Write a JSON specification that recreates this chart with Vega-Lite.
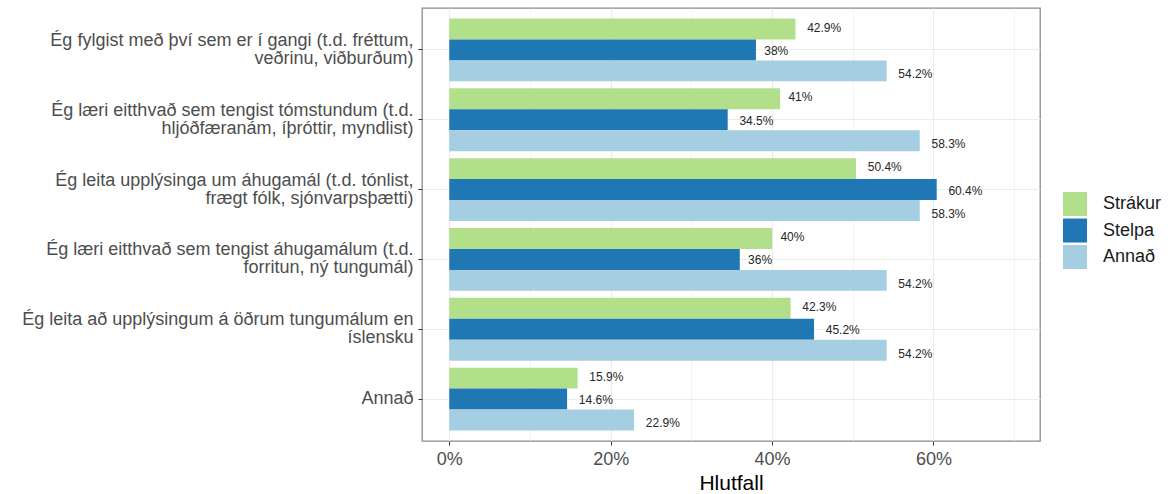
{
  "$schema": "https://vega.github.io/schema/vega-lite/v6.json",
  "width": 618,
  "height": 433,
  "autosize": {"type": "none"},
  "padding": {"left": 422, "top": 8, "right": 130, "bottom": 53},
  "config": {
    "font": "Liberation Sans",
    "view": {"stroke": "#8a8a8a", "strokeWidth": 1.3},
    "axis": {"domain": false}
  },
  "data": {
    "values": [
      {"item": "Ég fylgist með því sem er í gangi (t.d. fréttum,\nveðrinu, viðburðum)", "g": "Strákur", "v": 0.429},
      {"item": "Ég fylgist með því sem er í gangi (t.d. fréttum,\nveðrinu, viðburðum)", "g": "Stelpa", "v": 0.38},
      {"item": "Ég fylgist með því sem er í gangi (t.d. fréttum,\nveðrinu, viðburðum)", "g": "Annað", "v": 0.542},
      {"item": "Ég læri eitthvað sem tengist tómstundum (t.d.\nhljóðfæranám, íþróttir, myndlist)", "g": "Strákur", "v": 0.41},
      {"item": "Ég læri eitthvað sem tengist tómstundum (t.d.\nhljóðfæranám, íþróttir, myndlist)", "g": "Stelpa", "v": 0.345},
      {"item": "Ég læri eitthvað sem tengist tómstundum (t.d.\nhljóðfæranám, íþróttir, myndlist)", "g": "Annað", "v": 0.583},
      {"item": "Ég leita upplýsinga um áhugamál (t.d. tónlist,\nfrægt fólk, sjónvarpsþætti)", "g": "Strákur", "v": 0.504},
      {"item": "Ég leita upplýsinga um áhugamál (t.d. tónlist,\nfrægt fólk, sjónvarpsþætti)", "g": "Stelpa", "v": 0.604},
      {"item": "Ég leita upplýsinga um áhugamál (t.d. tónlist,\nfrægt fólk, sjónvarpsþætti)", "g": "Annað", "v": 0.583},
      {"item": "Ég læri eitthvað sem tengist áhugamálum (t.d.\nforritun, ný tungumál)", "g": "Strákur", "v": 0.40},
      {"item": "Ég læri eitthvað sem tengist áhugamálum (t.d.\nforritun, ný tungumál)", "g": "Stelpa", "v": 0.36},
      {"item": "Ég læri eitthvað sem tengist áhugamálum (t.d.\nforritun, ný tungumál)", "g": "Annað", "v": 0.542},
      {"item": "Ég leita að upplýsingum á öðrum tungumálum en\níslensku", "g": "Strákur", "v": 0.423},
      {"item": "Ég leita að upplýsingum á öðrum tungumálum en\níslensku", "g": "Stelpa", "v": 0.452},
      {"item": "Ég leita að upplýsingum á öðrum tungumálum en\níslensku", "g": "Annað", "v": 0.542},
      {"item": "Annað", "g": "Strákur", "v": 0.159},
      {"item": "Annað", "g": "Stelpa", "v": 0.146},
      {"item": "Annað", "g": "Annað", "v": 0.229}
    ]
  },
  "encoding": {
    "y": {
      "field": "item",
      "type": "nominal",
      "sort": null,
      "scale": {"paddingInner": 0.1, "paddingOuter": 0.15},
      "axis": {
        "title": null,
        "labelExpr": "split(datum.label, '\\n')",
        "labelFontSize": 18,
        "labelLineHeight": 18,
        "labelColor": "#4d4d4d",
        "labelLimit": 600,
        "labelPadding": 5,
        "labelOffset": {"condition": {"test": "indexof(datum.value, '\\n') >= 0", "value": -9}, "value": 0},
        "tickSize": 4,
        "tickColor": "#333333",
        "bandPosition": 0.5,
        "grid": true,
        "gridColor": "#ebebeb",
        "gridWidth": 1.2
      }
    },
    "x": {
      "field": "v",
      "type": "quantitative",
      "scale": {"domain": [-0.0338, 0.732], "nice": false, "zero": false},
      "axis": {
        "values": [0, 0.1, 0.2, 0.3, 0.4, 0.5, 0.6, 0.7],
        "format": ".0%",
        "labelExpr": "round(datum.value*10) % 2 == 0 ? datum.label : ''",
        "labelFlush": false,
        "labelOverlap": false,
        "labelBound": false,
        "labelFontSize": 18,
        "labelColor": "#4d4d4d",
        "labelPadding": 5,
        "tickSize": 4,
        "tickColor": "#333333",
        "tickOpacity": {"condition": {"test": "round(datum.value*10) % 2 == 0", "value": 1}, "value": 0},
        "grid": true,
        "gridColor": "#ebebeb",
        "gridWidth": {"condition": {"test": "round(datum.value*10) % 2 == 0", "value": 1.2}, "value": 0.6},
        "title": "Hlutfall",
        "titleFontSize": 21,
        "titleFontWeight": "normal",
        "titleColor": "#000000",
        "titlePadding": 4
      }
    }
  },
  "layer": [
    {
      "mark": {"type": "bar"},
      "encoding": {
        "yOffset": {"field": "g", "type": "nominal", "scale": {"domain": ["Strákur", "Stelpa", "Annað"]}},
        "color": {
          "field": "g",
          "type": "nominal",
          "scale": {"domain": ["Strákur", "Stelpa", "Annað"], "range": ["#b2df8a", "#1f78b4", "#a6cee3"]},
          "legend": {
            "title": null,
            "orient": "none",
            "legendX": 641,
            "legendY": 184,
            "symbolType": "square",
            "symbolSize": 576,
            "symbolStrokeWidth": 0,
            "symbolOpacity": 1,
            "labelFontSize": 18,
            "labelColor": "#1a1a1a",
            "labelOffset": 16,
            "rowPadding": 2.5,
            "padding": 0
          }
        }
      }
    },
    {
      "transform": [{"filter": "round(datum.v*1000) % 10 != 0"}],
      "mark": {"type": "text", "align": "left", "baseline": "middle", "dx": 11.7, "dy": 1, "fontSize": 12, "color": "#262626"},
      "encoding": {
        "yOffset": {"field": "g", "type": "nominal", "scale": {"domain": ["Strákur", "Stelpa", "Annað"], "padding": 0.35}},
        "text": {"field": "v", "type": "quantitative", "format": ".1~%"}
      }
    },
    {
      "transform": [{"filter": "round(datum.v*1000) % 10 == 0"}],
      "mark": {"type": "text", "align": "left", "baseline": "middle", "dx": 8.3, "dy": 1, "fontSize": 12, "color": "#262626"},
      "encoding": {
        "yOffset": {"field": "g", "type": "nominal", "scale": {"domain": ["Strákur", "Stelpa", "Annað"], "padding": 0.35}},
        "text": {"field": "v", "type": "quantitative", "format": ".1~%"}
      }
    }
  ],
  "resolve": {"scale": {"yOffset": "independent"}}
}
